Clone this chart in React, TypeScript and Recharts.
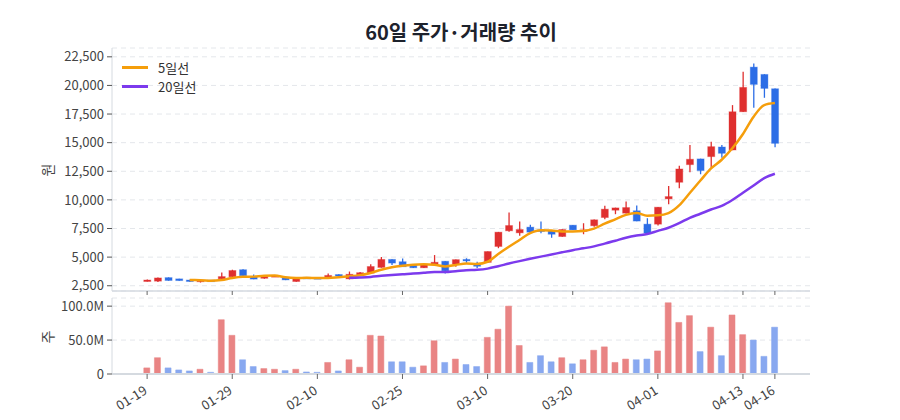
import React from 'react';
import { ComposedChart, Bar, Line, XAxis, YAxis, CartesianGrid, Cell, Legend } from 'recharts';

const dates = [
  '01-19', '01-20', '01-21', '01-22', '01-23', '01-26', '01-27', '01-28', '01-29', '01-30',
  '02-02', '02-03', '02-04', '02-05', '02-06', '02-09', '02-10', '02-11', '02-12', '02-13',
  '02-19', '02-20', '02-23', '02-24', '02-25', '02-26', '02-27', '03-03', '03-04', '03-05',
  '03-06', '03-09', '03-10', '03-11', '03-12', '03-13', '03-16', '03-17', '03-18', '03-19',
  '03-20', '03-23', '03-24', '03-25', '03-26', '03-27', '03-30', '03-31', '04-01', '04-02',
  '04-03', '04-06', '04-07', '04-08', '04-09', '04-10', '04-13', '04-14', '04-15', '04-16',
];

const opens = [
  2900, 2900, 3210, 3100, 3000, 2870, 2990, 3100, 3280, 3900,
  3270, 3150, 3300, 3210, 2870, 3230, 3200, 3170, 3480, 3100,
  3450, 3600, 4100, 4800, 4600, 4290, 4070, 4350, 4640, 4380,
  4800, 4400, 4540, 5930, 7300, 7120, 7620, 7380, 7300, 6800,
  7790, 7300, 7740, 8460, 9100, 8840, 9050, 7880, 7880, 10090,
  11540, 13080, 13580, 13780, 14620, 14360, 17700, 21600, 20960, 19710,
];
const highs = [
  3050, 3220, 3230, 3110, 3020, 3000, 3000, 3650, 3900, 3950,
  3480, 3340, 3400, 3230, 3110, 3250, 3220, 3560, 3500, 3740,
  3700, 4380, 5010, 4820, 4870, 4300, 4400, 5180, 4660, 4800,
  4900, 4590, 5500, 7200, 8900, 8110, 7820, 8110, 7320, 7430,
  7810, 7960, 8280, 9480, 9320, 9850, 9500, 8400, 9380, 11220,
  12990, 14800, 13600, 15090, 14800, 18280, 21190, 21920, 20980, 19730,
];
const lows = [
  2880, 2820, 2940, 2940, 2850, 2780, 2880, 3050, 3250, 3350,
  3060, 3120, 3280, 2990, 2850, 3170, 3150, 3150, 3330, 3050,
  3430, 3580, 4080, 4320, 4140, 4050, 4050, 4330, 3570, 4150,
  4500, 4040, 4520, 5780, 7210, 6860, 7160, 7090, 6690, 6780,
  7360, 7000, 7650, 8310, 8750, 8820, 8130, 7080, 7760, 9620,
  11020, 12410, 12240, 12820, 13690, 14340, 17680, 18050, 18920, 14590,
];
const closes = [
  3000, 3180, 2960, 2950, 2870, 2980, 2900, 3300, 3830, 3370,
  3080, 3320, 3380, 3010, 3090, 3180, 3170, 3400, 3350, 3500,
  3640, 4180, 4800, 4480, 4160, 4070, 4370, 4550, 3800, 4780,
  4700, 4200, 5490, 7180, 7760, 7410, 7180, 7240, 7000, 7410,
  7380, 7380, 8260, 9190, 9300, 9330, 8150, 7100, 9360, 10290,
  12700, 13550, 12560, 14650, 14070, 17700, 19830, 20090, 19740, 14940,
];
// 거래량 (백만 주)
const volumes = [
  9, 24, 9, 6, 4.5, 7, 2.5, 80, 57, 21,
  11, 8, 7, 5, 7, 3, 2.5, 17, 4.5, 21,
  10, 57, 56, 18, 18, 10, 12, 49, 17, 22,
  14, 11, 54, 66, 100, 42, 17, 27, 18, 24,
  15, 21, 35, 40, 17, 22, 21, 22, 34, 105,
  76, 86, 33, 69, 27, 87, 58, 50, 26, 69,
];
const ma5 = [
  null, null, null, null, 2992, 2988, 2932, 3000, 3176, 3276,
  3296, 3380, 3396, 3232, 3176, 3196, 3166, 3170, 3238, 3320,
  3412, 3614, 3894, 4120, 4252, 4338, 4376, 4326, 4190, 4314,
  4440, 4406, 4594, 5270, 5900, 6500, 7100, 7354, 7318, 7248,
  7242, 7282, 7486, 7924, 8302, 8692, 8846, 8614, 8648, 8846,
  9520, 10600, 11692, 12750, 13506, 14506, 15762, 17268, 18286, 18460,
];
const ma20 = [
  null, null, null, null, null, null, null, null, null, null,
  null, null, null, null, null, null, null, null, null, 3191,
  3223, 3273, 3365, 3442, 3506, 3561, 3634, 3697, 3695, 3766,
  3847, 3891, 3996, 4205, 4438, 4650, 4850, 5042, 5225, 5420,
  5607, 5767, 5940, 6176, 6433, 6696, 6885, 7012, 7290, 7566,
  7966, 8433, 8787, 9160, 9476, 9990, 10623, 11265, 11902, 12279,
];

const xTicks = [0, 8, 16, 24, 32, 40, 48, 56, 59];
const priceTicks = [2500, 5000, 7500, 10000, 12500, 15000, 17500, 20000, 22500];
const volTicks = [0, 50, 100];

const RED = '#df2f2f';
const BLUE = '#2c6de6';
const RED_SOFT = '#e98484';
const BLUE_SOFT = '#88a8f0';
const ORANGE = '#f59e0b';
const PURPLE = '#7c3aed';
const FONT = '"Noto Sans CJK KR", "Noto Sans", sans-serif';
const X_DOMAIN = [-3.3, 62.3];

const rows = dates.map((d, i) => ({
  i,
  date: d,
  open: opens[i],
  high: highs[i],
  low: lows[i],
  close: closes[i],
  range: [lows[i], highs[i]],
  vol: volumes[i],
  ma5: ma5[i],
  ma20: ma20[i],
}));

const Candle = (props: any) => {
  const { x, y, width, height, payload } = props;
  if (!payload) return null;
  const { open, close, high, low } = payload;
  const top = Math.min(y, y + height);
  const h = Math.abs(height);
  const k = h / (high - low);
  const bodyTop = top + (high - Math.max(open, close)) * k;
  const bodyH = Math.max(1.5, Math.abs(open - close) * k);
  const cx = x + width / 2;
  const c = close >= open ? RED : BLUE;
  return (
    <g>
      <line x1={cx} x2={cx} y1={top} y2={top + h} stroke={c} strokeWidth={1.3} />
      <rect x={x} y={bodyTop} width={width} height={bodyH} fill={c} stroke={c} strokeOpacity={0.35} strokeWidth={1} />
    </g>
  );
};

const DateTick = (props: any) => {
  const { x, y, payload } = props;
  return (
    <g transform={`translate(${x + 1},${y + 12})`}>
      <text textAnchor="end" transform="rotate(-32)" fontSize={13} fill="#444" fontFamily={FONT}>
        {dates[payload.value]}
      </text>
    </g>
  );
};

const MaLegend = () => (
  <div style={{ fontFamily: FONT }}>
    {[['5일선', ORANGE], ['20일선', PURPLE]].map(([name, c]) => (
      <div key={name} style={{ display: 'flex', alignItems: 'center', height: 19 }}>
        <span style={{ display: 'inline-block', width: 26, height: 3, background: c, marginRight: 10 }} />
        <span style={{ fontSize: 13, color: '#333' }}>{name}</span>
      </div>
    ))}
  </div>
);

const axisStroke = '#d5dae0';
const grid = <CartesianGrid vertical={false} stroke="#e4e7eb" strokeDasharray="5 4" />;

export default function App() {
  return (
    <div style={{ position: 'absolute', left: 0, top: 0, width: 900, height: 420, background: '#fff', fontFamily: FONT }}>
      <div style={{ position: 'absolute', top: 17, left: 112, width: 698, textAlign: 'center', fontSize: 20, fontWeight: 700, color: '#1d222c' }}>
        60일 주가·거래량 추이
      </div>
      <div style={{ position: 'absolute', left: 47, top: 170, transform: 'translate(-50%,-50%) rotate(-90deg)', fontSize: 14, color: '#444' }}>원</div>
      <div style={{ position: 'absolute', left: 47, top: 337, transform: 'translate(-50%,-50%) rotate(-90deg)', fontSize: 14, color: '#444' }}>주</div>

      <div style={{ position: 'absolute', left: 0, top: 0 }}>
        <ComposedChart width={900} height={296} data={rows} margin={{ top: 48, right: 90, bottom: 0, left: 0 }}>
          {grid}
          <XAxis
            dataKey="i" type="number" domain={X_DOMAIN} ticks={xTicks} allowDataOverflow
            tickFormatter={() => ''} height={5} tickSize={4}
            axisLine={{ stroke: axisStroke, strokeWidth: 1.5 }} tickLine={{ stroke: '#666' }}
          />
          <YAxis
            domain={[2040, 23270]} ticks={priceTicks} allowDataOverflow width={112}
            tickFormatter={(v: number) => v.toLocaleString('en-US')}
            tick={{ fontSize: 13, fill: '#444', fontFamily: FONT }} tickSize={5} tickMargin={3}
            axisLine={{ stroke: axisStroke }} tickLine={{ stroke: '#555' }}
          />
          <Bar dataKey="range" barSize={7} shape={<Candle />} isAnimationActive={false} />
          <Line dataKey="ma5" type="monotone" stroke={ORANGE} strokeWidth={2.5} dot={false} isAnimationActive={false} />
          <Line dataKey="ma20" type="monotone" stroke={PURPLE} strokeWidth={2.5} dot={false} isAnimationActive={false} />
          <Legend
            layout="vertical" align="center" verticalAlign="middle"
            wrapperStyle={{ top: 58, left: 122, width: 'auto', height: 'auto' }}
            content={<MaLegend />}
          />
        </ComposedChart>
      </div>

      <div style={{ position: 'absolute', left: 0, top: 296 }}>
        <ComposedChart width={900} height={124} data={rows} margin={{ top: 2, right: 90, bottom: 0, left: 0 }}>
          {grid}
          <XAxis
            dataKey="i" type="number" domain={X_DOMAIN} ticks={xTicks} allowDataOverflow
            height={46} tickSize={5} tick={<DateTick />}
            axisLine={{ stroke: axisStroke, strokeWidth: 2 }} tickLine={{ stroke: '#666' }}
          />
          <YAxis
            domain={[0, 112]} ticks={volTicks} allowDataOverflow width={112}
            tickFormatter={(v: number) => (v === 0 ? '0' : `${v.toFixed(1)}M`)}
            tick={{ fontSize: 13, fill: '#444', fontFamily: FONT }} tickSize={5} tickMargin={3}
            axisLine={{ stroke: axisStroke }} tickLine={{ stroke: '#555' }}
          />
          <Bar dataKey="vol" barSize={6} isAnimationActive={false}>
            {rows.map((r) => (
              <Cell key={r.i} fill={r.close >= r.open ? RED_SOFT : BLUE_SOFT} stroke={r.close >= r.open ? RED_SOFT : BLUE_SOFT} strokeOpacity={0.5} />
            ))}
          </Bar>
        </ComposedChart>
      </div>
    </div>
  );
}
